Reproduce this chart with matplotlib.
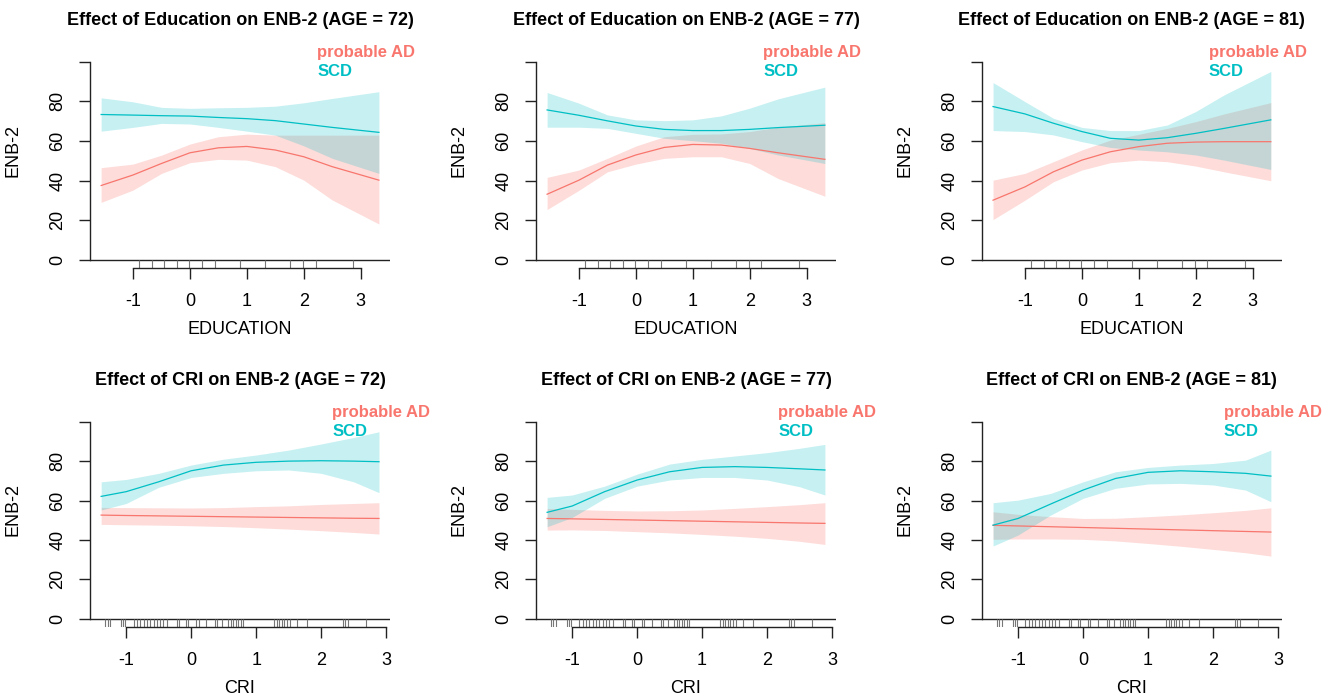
import matplotlib.pyplot as plt

plt.rcParams['font.family'] = ['Liberation Sans', 'DejaVu Sans']
plt.rcParams['axes.unicode_minus'] = False

# x grids where values were read
edu_x = [-1.56, -1.0, -0.5, 0.0, 0.5, 1.0, 1.5, 2.0, 2.5, 3.32]
cri_x = [-1.385, -1.0, -0.5, 0.0, 0.5, 1.0, 1.5, 2.0, 2.5, 2.89]

# rug (observed values)
edu_rug = [-0.895, -0.673, -0.452, -0.230, -0.009, 0.213, 0.434, 0.877,
           1.320, 1.763, 1.985, 2.206, 2.871]
cri_rug = [-1.323, -1.287, -1.246, -1.082, -1.051, -1.015, -0.887, -0.836,
           -0.785, -0.733, -0.682, -0.631, -0.579, -0.528, -0.477, -0.426,
           -0.374, -0.220, -0.180, -0.077, -0.041, 0.077, 0.113, 0.231,
           0.369, 0.405, 0.472, 0.574, 0.610, 0.651, 0.692, 0.728, 0.764,
           0.805, 1.277, 1.318, 1.359, 1.395, 1.431, 1.472, 1.523, 1.626,
           1.779, 2.333, 2.369, 2.421, 2.687]

# Education, AGE = 72
edu72_ad = [37.6, 42.9, 48.7, 54.1, 56.6, 57.3, 55.5, 52.1, 47.1, 40.3]
edu72_ad_lo = [29.1, 35.3, 43.7, 49.1, 50.8, 50.4, 47.1, 40.3, 30.3, 18.2]
edu72_ad_hi = [46.6, 48.4, 52.9, 58.5, 62.2, 63.5, 63.0, 63.0, 63.0, 63.0]
edu72_scd = [73.4, 73.1, 72.8, 72.6, 71.9, 71.3, 70.3, 68.6, 66.9, 64.4]
edu72_scd_lo = [65.0, 66.9, 68.9, 68.6, 66.9, 65.0, 63.0, 57.6, 51.3, 43.7]
edu72_scd_hi = [81.8, 79.8, 77.0, 76.5, 76.8, 77.0, 77.6, 79.3, 81.5, 84.9]

# Education, AGE = 77
edu77_ad = [33.2, 40.3, 47.9, 53.0, 56.8, 58.3, 58.0, 56.3, 54.1, 50.8]
edu77_ad_lo = [25.5, 35.2, 44.5, 48.4, 51.3, 52.1, 52.1, 48.7, 41.1, 32.2]
edu77_ad_hi = [41.7, 45.4, 51.3, 57.5, 62.2, 63.4, 63.6, 64.8, 67.0, 69.3]
edu77_scd = [75.7, 73.0, 70.2, 67.6, 65.9, 65.3, 65.3, 65.9, 66.8, 68.0]
edu77_scd_lo = [67.0, 67.0, 66.4, 63.9, 61.4, 60.2, 58.9, 56.3, 53.0, 48.7]
edu77_scd_hi = [84.5, 79.1, 73.2, 70.7, 70.3, 70.7, 72.7, 76.6, 81.3, 87.2]

# Education, AGE = 81
edu81_ad = [30.2, 36.9, 44.5, 50.4, 54.6, 57.2, 58.9, 59.5, 59.7, 59.7]
edu81_ad_lo = [20.4, 30.2, 39.5, 45.4, 49.1, 50.4, 49.6, 47.4, 44.5, 40.0]
edu81_ad_hi = [40.3, 43.7, 49.6, 55.5, 60.5, 63.4, 66.4, 69.8, 73.7, 79.4]
edu81_scd = [77.4, 73.7, 69.0, 64.8, 61.4, 60.5, 61.7, 63.9, 66.4, 70.7]
edu81_scd_lo = [65.3, 64.8, 63.1, 59.7, 56.8, 55.5, 54.6, 53.0, 50.4, 45.7]
edu81_scd_hi = [89.5, 79.9, 71.5, 66.9, 65.3, 65.3, 68.1, 74.9, 83.3, 95.1]

# CRI, AGE = 72
cri72_ad = [52.6, 52.4, 52.2, 52.0, 51.8, 51.6, 51.4, 51.2, 51.0, 50.9]
cri72_ad_lo = [47.9, 47.7, 47.5, 47.2, 46.8, 46.2, 45.5, 44.7, 43.8, 43.0]
cri72_ad_hi = [56.5, 56.4, 56.3, 56.2, 56.4, 56.9, 57.3, 58.0, 58.5, 58.9]
cri72_scd = [62.1, 64.5, 69.5, 75.1, 78.0, 79.4, 80.0, 80.2, 80.0, 79.7]
cri72_scd_lo = [55.2, 58.5, 66.7, 71.7, 73.8, 75.1, 75.5, 73.8, 69.5, 64.0]
cri72_scd_hi = [69.5, 70.7, 73.8, 78.0, 81.0, 83.1, 85.6, 88.7, 92.0, 94.9]

# CRI, AGE = 77
cri77_ad = [50.9, 50.7, 50.4, 50.1, 49.8, 49.5, 49.2, 48.9, 48.6, 48.4]
cri77_ad_lo = [45.0, 45.1, 44.8, 44.2, 43.6, 42.8, 41.9, 40.8, 39.3, 37.7]
cri77_ad_hi = [56.0, 55.5, 55.0, 54.7, 54.8, 55.2, 56.0, 56.9, 57.9, 58.9]
cri77_scd = [54.0, 57.2, 64.5, 70.4, 74.6, 76.8, 77.2, 76.8, 76.1, 75.5]
cri77_scd_lo = [46.7, 51.4, 61.1, 67.3, 70.4, 71.7, 71.7, 70.4, 67.0, 62.8]
cri77_scd_hi = [61.6, 62.8, 67.3, 73.4, 78.5, 80.9, 82.6, 84.3, 86.5, 88.5]

# CRI, AGE = 81
cri81_ad = [47.4, 47.1, 46.7, 46.3, 45.9, 45.5, 45.1, 44.7, 44.3, 44.0]
cri81_ad_lo = [40.3, 40.5, 40.5, 40.3, 39.5, 38.2, 36.8, 35.2, 33.5, 31.8]
cri81_ad_hi = [54.3, 53.0, 51.8, 50.9, 51.0, 51.8, 52.7, 53.8, 55.0, 56.3]
cri81_scd = [47.5, 50.9, 58.2, 65.3, 71.2, 74.3, 75.1, 74.6, 73.8, 72.4]
cri81_scd_lo = [36.9, 42.5, 52.6, 61.1, 66.2, 68.4, 68.7, 67.9, 65.3, 59.4]
cri81_scd_hi = [58.9, 60.2, 63.6, 69.5, 74.6, 76.8, 78.0, 78.8, 80.5, 85.6]

ages = [72, 77, 81]
edu_panels = [
    (edu72_ad, edu72_ad_lo, edu72_ad_hi, edu72_scd, edu72_scd_lo, edu72_scd_hi),
    (edu77_ad, edu77_ad_lo, edu77_ad_hi, edu77_scd, edu77_scd_lo, edu77_scd_hi),
    (edu81_ad, edu81_ad_lo, edu81_ad_hi, edu81_scd, edu81_scd_lo, edu81_scd_hi),
]
cri_panels = [
    (cri72_ad, cri72_ad_lo, cri72_ad_hi, cri72_scd, cri72_scd_lo, cri72_scd_hi),
    (cri77_ad, cri77_ad_lo, cri77_ad_hi, cri77_scd, cri77_scd_lo, cri77_scd_hi),
    (cri81_ad, cri81_ad_lo, cri81_ad_hi, cri81_scd, cri81_scd_lo, cri81_scd_hi),
]

AD_COL = '#F8766D'
SCD_COL = '#00BFC4'
AXIS_COL = '#222222'

fig = plt.figure(figsize=(13.32, 6.96), dpi=100)
lefts = [0.0676, 0.4024, 0.7372]
W = 0.2252


def draw_panel(ax, x, vals, xlim, rug, xlabel, title, leg_x):
    ad, ad_lo, ad_hi, scd, scd_lo, scd_hi = vals
    # AD band and line first, SCD on top (overlap turns grey)
    ax.fill_between(x, ad_lo, ad_hi, color=AD_COL, alpha=0.25, lw=0)
    ax.plot(x, ad, color=AD_COL, lw=0.9)
    ax.fill_between(x, scd_lo, scd_hi, color=SCD_COL, alpha=0.22, lw=0)
    ax.plot(x, scd, color=SCD_COL, lw=0.9)

    ax.set_xlim(xlim)
    ax.set_ylim(-4, 104)
    ax.axhline(0, color=AXIS_COL, lw=1.0)
    ax.vlines(rug, -4, 0, color='#777777', lw=0.8)

    for s in ['top', 'right']:
        ax.spines[s].set_visible(False)
    ax.spines['left'].set_bounds(0, 100)
    ax.spines['bottom'].set_bounds(-1, 3)
    for s in ['left', 'bottom']:
        ax.spines[s].set_color(AXIS_COL)
        ax.spines[s].set_linewidth(1.0)

    ax.set_xticks([-1, 0, 1, 2, 3])
    ax.set_yticks([0, 20, 40, 60, 80, 100], labels=['0', '20', '40', '60', '80', ''])
    ax.tick_params(axis='both', direction='out', length=8, width=1.0,
                   color=AXIS_COL, labelsize=13)
    ax.tick_params(axis='x', pad=10)
    ax.tick_params(axis='y', pad=9)
    for lab in ax.get_yticklabels():
        lab.set_rotation(90)
        lab.set_va('center')

    ax.set_xlabel(xlabel, fontsize=13, labelpad=8)
    ax.set_ylabel('ENB-2', fontsize=13)
    ax.yaxis.set_label_coords(-0.227, 0.55)
    ax.set_title(title, fontsize=13, fontweight='bold', pad=21)

    ax.text(leg_x, 1.005, 'probable AD', transform=ax.transAxes, color=AD_COL,
            fontsize=12, fontweight='bold', ha='left', va='center', clip_on=False)
    ax.text(leg_x, 0.917, 'SCD', transform=ax.transAxes, color=SCD_COL,
            fontsize=12, fontweight='bold', ha='left', va='center', clip_on=False)


for i, age in enumerate(ages):
    ax = fig.add_axes([lefts[i], 0.6149, W, 0.3078])
    draw_panel(ax, edu_x, edu_panels[i], (-1.755, 3.515), edu_rug, 'EDUCATION',
               f'Effect of Education on ENB-2 (AGE = {age})', 0.757)

    ax = fig.add_axes([lefts[i], 0.0997, W, 0.3057])
    draw_panel(ax, cri_x, cri_panels[i], (-1.556, 3.06), cri_rug, 'CRI',
               f'Effect of CRI on ENB-2 (AGE = {age})', 0.807)

fig.savefig('out.png', dpi=100)
